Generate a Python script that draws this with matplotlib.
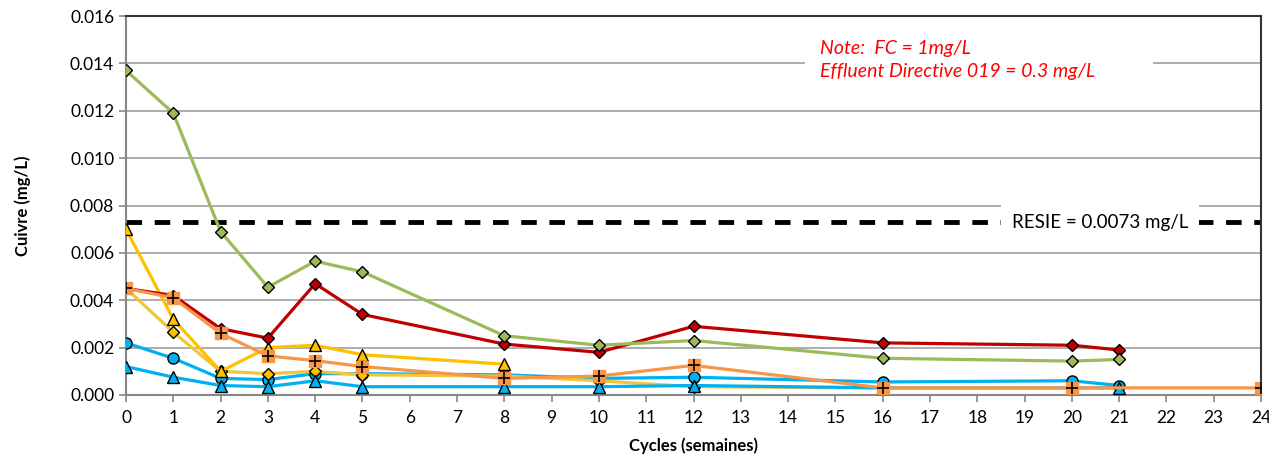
import matplotlib.pyplot as plt
from matplotlib.patches import Rectangle
import numpy as np

plt.rcParams['font.family'] = ['Lato', 'DejaVu Sans']

# cycles (semaines) and copper concentrations (mg/L)
x_green = [0, 1, 2, 3, 4, 5, 8, 10, 12, 16, 20, 21]
y_green = [0.0137, 0.0119, 0.0069, 0.00455, 0.00565, 0.0052, 0.0025, 0.0021, 0.0023, 0.00155, 0.00143, 0.0015]

x_red = [0, 1, 2, 3, 4, 5, 8, 10, 12, 16, 20, 21]
y_red = [0.0045, 0.0042, 0.0028, 0.0024, 0.0047, 0.0034, 0.00215, 0.0018, 0.0029, 0.0022, 0.0021, 0.0019]

x_orange = [0, 1, 2, 3, 4, 5, 8, 10, 12, 16, 20, 24]
y_orange = [0.0045, 0.0041, 0.0026, 0.00165, 0.00145, 0.0012, 0.0007, 0.0008, 0.00125, 0.0003, 0.0003, 0.0003]

x_gold = [0, 1, 2, 3, 4, 5, 8]
y_gold = [0.0070, 0.0032, 0.0010, 0.0020, 0.0021, 0.0017, 0.0013]

x_yellow = [0, 1, 2, 3, 4, 5, 8, 10, 12, 16]
y_yellow = [0.0045, 0.00265, 0.0010, 0.0009, 0.0010, 0.00085, 0.0008, 0.0006, 0.00035, 0.0003]

x_bcircle = [0, 1, 2, 3, 4, 5, 8, 10, 12, 16, 20, 21]
y_bcircle = [0.0022, 0.00155, 0.0007, 0.00065, 0.0009, 0.0009, 0.00085, 0.0007, 0.00075, 0.00055, 0.0006, 0.0004]

x_btri = [0, 1, 2, 3, 4, 5, 8, 10, 12, 16, 20, 21]
y_btri = [0.0012, 0.00075, 0.0004, 0.00035, 0.0006, 0.00035, 0.00035, 0.00035, 0.0004, 0.0003, 0.0003, 0.0003]

resie = 0.0073

fig = plt.figure(figsize=(12.69, 4.63), dpi=100)
ax = fig.add_axes([0.0993, 0.1469, 0.8944, 0.8185])

lw = 2.3
ms = 8
ax.plot(x_bcircle, y_bcircle, color='#00B0F0', lw=lw, marker='o', ms=ms, mfc='#00B0F0', mec='black', mew=1, zorder=3)
ax.plot(x_yellow, y_yellow, color='#F0C63A', lw=lw, marker='D', ms=6.5, mfc='#FFC000', mec='black', mew=1, zorder=3)
ax.plot(x_btri, y_btri, color='#00B0F0', lw=lw, marker='^', ms=ms, mfc='#00B0F0', mec='black', mew=1, zorder=3)
ax.plot(x_gold, y_gold, color='#FFC000', lw=lw, marker='^', ms=ms, mfc='#FFC000', mec='black', mew=1, zorder=4)
ax.plot(x_red, y_red, color='#C00000', lw=lw, marker='D', ms=6.5, mfc='#C00000', mec='black', mew=1, zorder=4)
ax.plot(x_green, y_green, color='#9BBB59', lw=lw, marker='D', ms=6.5, mfc='#9BBB59', mec='black', mew=1, zorder=5)
ax.plot(x_orange, y_orange, color='#F79646', lw=lw, marker='s', ms=9, mfc='#F79646', mec='#F79646', zorder=5)
ax.plot(x_orange, y_orange, ls='none', marker='+', ms=9, mec='black', mew=1.2, zorder=6)

# RESIE limit
ax.axhline(resie, color='black', lw=3.5, ls=(0, (3.2, 2.6)), zorder=2)
ax.text(20.6, resie, 'RESIE = 0.0073 mg/L', ha='center', va='center', fontsize=13.5,
        bbox=dict(facecolor='white', edgecolor='none', pad=8), zorder=7)

# note box (white background hides the gridline)
ax.add_patch(Rectangle((14.36, 0.0130), 21.71 - 14.36, 0.0022, facecolor='white',
                       edgecolor='none', zorder=6))
ax.text(14.67, 0.01415, 'Note:  FC = 1mg/L\nEffluent Directive 019 = 0.3 mg/L', color='#FF0000',
        style='italic', fontsize=14, ha='left', va='center', linespacing=1.4, zorder=7)

ax.set_xlim(0, 24)
ax.set_ylim(0, 0.016)
ax.set_xticks(np.arange(0, 25, 1))
ax.set_yticks(np.arange(0, 0.0161, 0.002))
ax.set_yticklabels(['%.3f' % v for v in np.arange(0, 0.0161, 0.002)])
ax.yaxis.grid(True, color='#A0A0A0', lw=1.2, zorder=0)
ax.set_axisbelow(True)
ax.tick_params(axis='both', labelsize=12.5, color='#868686', length=5, width=1.2)
ax.tick_params(axis='x', pad=6)

for s in ['left', 'bottom']:
    ax.spines[s].set_color('#868686')
    ax.spines[s].set_linewidth(1.5)
for s in ['top', 'right']:
    ax.spines[s].set_color('#333333')
    ax.spines[s].set_linewidth(1.5)

ax.set_xlabel('Cycles (semaines)', fontsize=12, fontweight='bold', labelpad=8)
ax.set_ylabel('Cuivre (mg/L)', fontsize=12, fontweight='bold', labelpad=28)

fig.savefig('out.png', dpi=100)
